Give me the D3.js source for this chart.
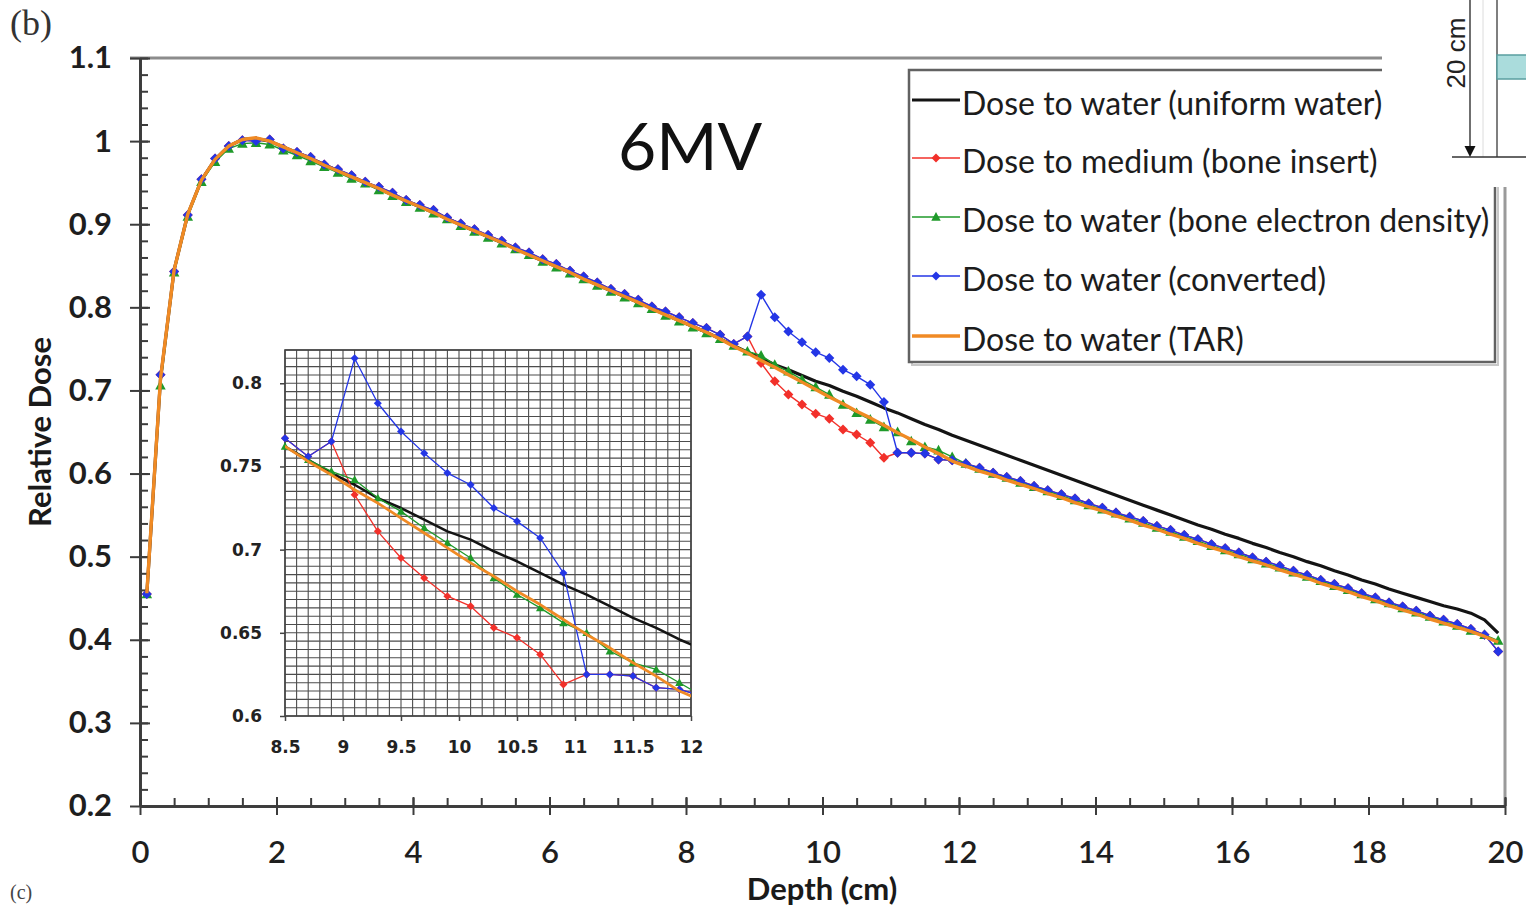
<!DOCTYPE html>
<html>
<head>
<meta charset="utf-8">
<script src="https://cdn.jsdelivr.net/npm/d3@7"></script>
<style>
  body { margin: 0; background: #fff; }
  svg { display: block; }
</style>
</head>
<body>
<svg id="chart" width="1526" height="906"></svg>
<script>
// Depth samples (cm)
const depth = [
  0.1,0.3,0.5,0.7,0.9,1.1,1.3,1.5,1.7,1.9,
  2.1,2.3,2.5,2.7,2.9,3.1,3.3,3.5,3.7,3.9,
  4.1,4.3,4.5,4.7,4.9,5.1,5.3,5.5,5.7,5.9,
  6.1,6.3,6.5,6.7,6.9,7.1,7.3,7.5,7.7,7.9,
  8.1,8.3,8.5,8.7,8.9,9.1,9.3,9.5,9.7,9.9,
  10.1,10.3,10.5,10.7,10.9,11.1,11.3,11.5,11.7,11.9,
  12.1,12.3,12.5,12.7,12.9,13.1,13.3,13.5,13.7,13.9,
  14.1,14.3,14.5,14.7,14.9,15.1,15.3,15.5,15.7,15.9,
  16.1,16.3,16.5,16.7,16.9,17.1,17.3,17.5,17.7,17.9,
  18.1,18.3,18.5,18.7,18.9,19.1,19.3,19.5,19.7,19.9
];

// Dose to water, uniform water phantom
const uniformWater = [
  0.455,0.713,0.845,0.912,0.953,0.978,0.994,1.002,1.003,1.000,
  0.993,0.986,0.979,0.972,0.964,0.957,0.950,0.943,0.936,0.928,
  0.921,0.914,0.907,0.899,0.892,0.885,0.878,0.871,0.863,0.856,
  0.849,0.842,0.835,0.827,0.820,0.813,0.806,0.799,0.791,0.784,
  0.777,0.770,0.762,0.754,0.746,0.739,0.731,0.725,0.718,0.711,
  0.706,0.699,0.693,0.686,0.679,0.673,0.666,0.659,0.653,0.646,
  0.640,0.634,0.628,0.622,0.616,0.610,0.604,0.598,0.592,0.586,
  0.580,0.574,0.568,0.562,0.556,0.550,0.544,0.538,0.533,0.527,
  0.522,0.516,0.511,0.505,0.500,0.494,0.489,0.483,0.478,0.472,
  0.467,0.461,0.456,0.451,0.446,0.441,0.437,0.432,0.424,0.408
];

// Dose to medium, bone insert
const boneInsert = [
  0.455,0.719,0.843,0.911,0.954,0.979,0.994,1.001,1.000,1.002,
  0.991,0.987,0.981,0.972,0.966,0.959,0.951,0.945,0.938,0.929,
  0.923,0.917,0.908,0.901,0.894,0.887,0.880,0.872,0.866,0.858,
  0.852,0.844,0.837,0.830,0.822,0.816,0.809,0.801,0.795,0.788,
  0.781,0.775,0.767,0.756,0.765,0.733,0.711,0.695,0.683,0.672,
  0.666,0.653,0.647,0.637,0.619,0.625,0.625,0.624,0.617,0.616,
  0.612,0.607,0.601,0.596,0.591,0.585,0.580,0.575,0.570,0.564,
  0.559,0.553,0.548,0.543,0.537,0.532,0.526,0.521,0.515,0.510,
  0.505,0.499,0.494,0.489,0.483,0.478,0.472,0.467,0.462,0.456,
  0.451,0.445,0.440,0.435,0.429,0.424,0.419,0.413,0.406,0.386
];

// Dose to water, bone electron density
const boneDensity = [
  0.455,0.706,0.842,0.909,0.951,0.975,0.991,0.997,0.998,0.996,
  0.989,0.983,0.976,0.969,0.962,0.955,0.949,0.941,0.934,0.927,
  0.920,0.913,0.906,0.898,0.891,0.884,0.877,0.870,0.863,0.855,
  0.848,0.841,0.834,0.826,0.819,0.812,0.805,0.798,0.790,0.783,
  0.776,0.769,0.762,0.754,0.747,0.742,0.731,0.723,0.713,0.704,
  0.695,0.683,0.673,0.665,0.656,0.650,0.639,0.632,0.628,0.620,
  0.612,0.606,0.600,0.595,0.589,0.584,0.579,0.573,0.568,0.562,
  0.557,0.552,0.546,0.541,0.535,0.530,0.524,0.519,0.513,0.508,
  0.503,0.497,0.492,0.487,0.481,0.476,0.471,0.465,0.460,0.455,
  0.449,0.444,0.438,0.433,0.428,0.422,0.417,0.411,0.406,0.399
];

// Dose to water, converted from dose to medium
const converted = [
  0.455,0.719,0.843,0.911,0.954,0.979,0.994,1.001,1.000,1.002,
  0.991,0.987,0.981,0.972,0.966,0.959,0.951,0.945,0.938,0.929,
  0.923,0.917,0.908,0.901,0.894,0.887,0.880,0.872,0.866,0.858,
  0.852,0.844,0.837,0.830,0.822,0.816,0.809,0.801,0.795,0.788,
  0.781,0.775,0.767,0.756,0.765,0.815,0.788,0.771,0.758,0.746,
  0.739,0.725,0.717,0.707,0.686,0.625,0.625,0.624,0.617,0.616,
  0.612,0.607,0.601,0.596,0.591,0.585,0.580,0.575,0.570,0.564,
  0.559,0.553,0.548,0.543,0.537,0.532,0.526,0.521,0.515,0.510,
  0.505,0.499,0.494,0.489,0.483,0.478,0.472,0.467,0.462,0.456,
  0.451,0.445,0.440,0.435,0.429,0.424,0.419,0.413,0.406,0.386
];

// Dose to water, TAR correction
const tar = [
  0.456,0.714,0.845,0.912,0.953,0.978,0.994,1.002,1.004,1.000,
  0.993,0.986,0.979,0.971,0.964,0.957,0.950,0.943,0.935,0.928,
  0.921,0.914,0.906,0.899,0.892,0.885,0.878,0.870,0.863,0.856,
  0.849,0.842,0.834,0.827,0.820,0.813,0.806,0.798,0.791,0.784,
  0.777,0.770,0.762,0.753,0.745,0.736,0.728,0.719,0.710,0.701,
  0.692,0.684,0.675,0.667,0.658,0.649,0.641,0.632,0.624,0.615,
  0.609,0.603,0.598,0.592,0.587,0.582,0.576,0.571,0.565,0.560,
  0.555,0.549,0.544,0.538,0.533,0.527,0.522,0.516,0.511,0.506,
  0.500,0.495,0.490,0.484,0.479,0.474,0.468,0.463,0.458,0.452,
  0.447,0.441,0.436,0.431,0.425,0.420,0.415,0.410,0.404,0.397
];

const xTicks = [0, 2, 4, 6, 8, 10, 12, 14, 16, 18, 20];
const yTicks = [0.2, 0.3, 0.4, 0.5, 0.6, 0.7, 0.8, 0.9, 1, 1.1];
const yTickLabels = ["0.2", "0.3", "0.4", "0.5", "0.6", "0.7", "0.8", "0.9", "1", "1.1"];
const insetXTicks = [8.5, 9, 9.5, 10, 10.5, 11, 11.5, 12];
const insetYTicks = [0.6, 0.65, 0.7, 0.75, 0.8];

const seriesNames = [
  "Dose to water (uniform water)",
  "Dose to medium (bone insert)",
  "Dose to water (bone electron density)",
  "Dose to water (converted)",
  "Dose to water (TAR)"
];

const series = [
  { name: seriesNames[0], values: uniformWater, color: "#141414", width: 3.2, marker: null },
  { name: seriesNames[1], values: boneInsert, color: "#f2302a", width: 1.4, marker: "diamond" },
  { name: seriesNames[2], values: boneDensity, color: "#1f9a2a", width: 1.4, marker: "triangle" },
  { name: seriesNames[3], values: converted, color: "#2436e6", width: 1.4, marker: "diamond" },
  { name: seriesNames[4], values: tar, color: "#f08a24", width: 3.4, marker: null }
];

const svg = d3.select("#chart");
svg.append("rect").attr("width", 1526).attr("height", 906).attr("fill", "#fff");

const x = d3.scaleLinear().domain([0, 20]).range([140, 1505]);
const y = d3.scaleLinear().domain([0.2, 1.1]).range([806, 58]);

function markerPath(type, r) {
  if (type === "diamond") {
    return `M0,${-r}L${r},0L0,${r}L${-r},0Z`;
  }
  const h = r * 1.1;
  return `M0,${-h}L${r * 1.05},${h * 0.75}L${-r * 1.05},${h * 0.75}Z`;
}

// ---- plot frame (top and right edges) ----
svg.append("line")
  .attr("x1", x(0) - 10).attr("x2", x(20))
  .attr("y1", y(1.1)).attr("y2", y(1.1))
  .attr("stroke", "#8c8c8c").attr("stroke-width", 3);
svg.append("line")
  .attr("x1", x(20)).attr("x2", x(20))
  .attr("y1", y(1.1)).attr("y2", y(0.2))
  .attr("stroke", "#9a9a9a").attr("stroke-width", 3);

// ---- y axis ----
const axisColor = "#3c3c3c";
function styleAxis(g) {
  g.select(".domain").attr("stroke", axisColor).attr("stroke-width", 2.5);
  g.selectAll(".tick line").attr("stroke", axisColor).attr("stroke-width", 2);
}
const gyMinor = svg.append("g").attr("transform", `translate(${x(0)},0)`)
  .call(d3.axisLeft(y).ticks(45).tickSize(-8).tickSizeOuter(0).tickFormat(""));
styleAxis(gyMinor);
const gyIn = svg.append("g").attr("transform", `translate(${x(0)},0)`)
  .call(d3.axisLeft(y).tickValues(yTicks).tickSize(-10).tickSizeOuter(0).tickFormat(""));
styleAxis(gyIn);
const gy = svg.append("g").attr("transform", `translate(${x(0)},0)`)
  .call(d3.axisLeft(y).tickValues(yTicks).tickSize(10).tickSizeOuter(0).tickPadding(18)
    .tickFormat((d, i) => yTickLabels[i]));
styleAxis(gy);
gy.selectAll(".tick text")
  .attr("font-family", "Lato, 'Open Sans', sans-serif")
  .attr("font-size", 31).attr("font-weight", "bold").attr("fill", "#1e1e1e");

// ---- x axis ----
const gxMinor = svg.append("g").attr("transform", `translate(0,${y(0.2)})`)
  .call(d3.axisBottom(x).ticks(50).tickSize(-8).tickSizeOuter(0).tickFormat(""));
styleAxis(gxMinor);
const gxIn = svg.append("g").attr("transform", `translate(0,${y(0.2)})`)
  .call(d3.axisBottom(x).tickValues(xTicks).tickSize(-9).tickSizeOuter(0).tickFormat(""));
styleAxis(gxIn);
const gx = svg.append("g").attr("transform", `translate(0,${y(0.2)})`)
  .call(d3.axisBottom(x).tickValues(xTicks).tickSize(9).tickSizeOuter(0).tickPadding(26)
    .tickFormat(d3.format("d")));
styleAxis(gx);
gx.selectAll(".tick text")
  .attr("font-family", "Lato, 'Open Sans', sans-serif")
  .attr("font-size", 31).attr("font-weight", 600).attr("fill", "#1e1e1e");

// ---- axis titles ----
svg.append("text")
  .attr("transform", "translate(51,432) rotate(-90)")
  .attr("text-anchor", "middle")
  .attr("font-family", "Lato, 'Open Sans', sans-serif")
  .attr("font-size", 31).attr("font-weight", "bold").attr("fill", "#1a1a1a")
  .text("Relative Dose");
svg.append("text")
  .attr("x", 822).attr("y", 900)
  .attr("text-anchor", "middle")
  .attr("font-family", "Lato, 'Open Sans', sans-serif")
  .attr("font-size", 31).attr("font-weight", "bold").attr("fill", "#1a1a1a")
  .text("Depth (cm)");

// ---- main curves ----
const mainLine = d3.line().x((d, i) => x(depth[i])).y(d => y(d));
const gMain = svg.append("g");
series.forEach(s => {
  gMain.append("path")
    .attr("d", mainLine(s.values))
    .attr("fill", "none")
    .attr("stroke", s.color)
    .attr("stroke-width", s.width)
    .attr("stroke-linejoin", "round");
  if (s.marker) {
    gMain.append("g").selectAll("path")
      .data(s.values)
      .join("path")
      .attr("transform", (d, i) => `translate(${x(depth[i])},${y(d)})`)
      .attr("d", markerPath(s.marker, 5))
      .attr("fill", s.color);
  }
});

// ---- 6MV label ----
svg.append("text")
  .attr("x", 690).attr("y", 170)
  .attr("text-anchor", "middle")
  .attr("font-family", "Lato, 'Open Sans', sans-serif")
  .attr("font-size", 66).attr("fill", "#111")
  .text("6MV");

// ---- inset (8.5 – 12 cm) ----
const xi = d3.scaleLinear().domain([8.5, 12]).range([285, 691]);
const yi = d3.scaleLinear().domain([0.6, 0.82]).range([716, 350]);
const gIn = svg.append("g");
gIn.append("rect")
  .attr("x", xi(8.5)).attr("y", yi(0.82))
  .attr("width", xi(12) - xi(8.5)).attr("height", yi(0.6) - yi(0.82))
  .attr("fill", "#fff");
svg.append("defs").append("clipPath").attr("id", "insetClip")
  .append("rect")
  .attr("x", xi(8.5)).attr("y", yi(0.82))
  .attr("width", xi(12) - xi(8.5)).attr("height", yi(0.6) - yi(0.82));

const gridColor = "#4d4d4d";
gIn.append("g").selectAll("line")
  .data(xi.ticks(35))
  .join("line")
  .attr("x1", d => xi(d)).attr("x2", d => xi(d))
  .attr("y1", yi(0.82)).attr("y2", yi(0.6))
  .attr("stroke", gridColor).attr("stroke-width", 1.1);
gIn.append("g").selectAll("line")
  .data(yi.ticks(44))
  .join("line")
  .attr("x1", xi(8.5)).attr("x2", xi(12))
  .attr("y1", d => yi(d)).attr("y2", d => yi(d))
  .attr("stroke", gridColor).attr("stroke-width", 1.1);
gIn.append("rect")
  .attr("x", xi(8.5)).attr("y", yi(0.82))
  .attr("width", xi(12) - xi(8.5)).attr("height", yi(0.6) - yi(0.82))
  .attr("fill", "none").attr("stroke", "#444").attr("stroke-width", 1.6);

const gyi = gIn.append("g").attr("transform", `translate(${xi(8.5)},0)`)
  .call(d3.axisLeft(yi).tickValues(insetYTicks).tickSize(5).tickSizeOuter(0).tickPadding(18)
    .tickFormat(d3.format("")));
gyi.select(".domain").remove();
gyi.selectAll(".tick line").attr("stroke", "#444").attr("stroke-width", 1.5);
gyi.selectAll(".tick text")
  .attr("font-family", "'DejaVu Sans', Verdana, sans-serif")
  .attr("font-size", 17).attr("font-weight", "bold").attr("fill", "#222");

const gxi = gIn.append("g").attr("transform", `translate(0,${yi(0.6)})`)
  .call(d3.axisBottom(xi).tickValues(insetXTicks).tickSize(5).tickSizeOuter(0).tickPadding(20)
    .tickFormat(d3.format("")));
gxi.select(".domain").remove();
gxi.selectAll(".tick line").attr("stroke", "#444").attr("stroke-width", 1.5);
gxi.selectAll(".tick text")
  .attr("font-family", "'DejaVu Sans', Verdana, sans-serif")
  .attr("font-size", 17).attr("font-weight", "bold").attr("fill", "#222");

const insetIdx = depth.map((d, i) => i).filter(i => depth[i] >= 8.3 && depth[i] <= 12.1);
const gInSeries = gIn.append("g");
series.forEach(s => {
  const line = d3.line().x(i => xi(depth[i])).y(i => yi(s.values[i]));
  gInSeries.append("path")
    .attr("clip-path", "url(#insetClip)")
    .attr("d", line(insetIdx))
    .attr("fill", "none")
    .attr("stroke", s.color)
    .attr("stroke-width", s.marker ? 1.3 : s.width * 0.8)
    .attr("stroke-linejoin", "round");
  if (s.marker) {
    gInSeries.append("g").selectAll("path")
      .data(insetIdx.filter(i => depth[i] >= 8.5 && depth[i] <= 12))
      .join("path")
      .attr("transform", i => `translate(${xi(depth[i])},${yi(s.values[i])})`)
      .attr("d", markerPath(s.marker, 4))
      .attr("fill", s.color);
  }
});

// ---- legend ----
const gLeg = svg.append("g");
gLeg.append("rect")
  .attr("x", 912).attr("y", 73).attr("width", 586).attr("height", 292)
  .attr("fill", "none").attr("stroke", "#c8c8c8").attr("stroke-width", 2);
gLeg.append("rect")
  .attr("x", 909).attr("y", 70).attr("width", 586).attr("height", 292)
  .attr("fill", "#fff").attr("stroke", "#626262").attr("stroke-width", 2.5);
const legendRows = [104, 162, 221, 280, 340];
series.forEach((s, k) => {
  const cy = legendRows[k];
  gLeg.append("line")
    .attr("x1", 912).attr("x2", 960)
    .attr("y1", cy - 4).attr("y2", cy - 4)
    .attr("stroke", s.color)
    .attr("stroke-width", s.marker ? 1.6 : s.width);
  if (s.marker) {
    gLeg.append("path")
      .attr("transform", `translate(936,${cy - 4})`)
      .attr("d", markerPath(s.marker, 4.5))
      .attr("fill", s.color);
  }
  gLeg.append("text")
    .attr("x", 962).attr("y", cy + 11)
    .attr("font-family", "Lato, 'Open Sans', sans-serif")
    .attr("font-size", 32).attr("fill", "#1c1c1c")
    .text(s.name);
});

// ---- phantom sketch in the top-right corner ----
const gSk = svg.append("g");
gSk.append("rect").attr("x", 1382).attr("y", 0).attr("width", 144).attr("height", 187).attr("fill", "#fff");
gSk.append("line").attr("x1", 1483).attr("x2", 1483).attr("y1", 0).attr("y2", 157)
  .attr("stroke", "#dcdcdc").attr("stroke-width", 1);
gSk.append("line").attr("x1", 1497).attr("x2", 1497).attr("y1", 0).attr("y2", 157)
  .attr("stroke", "#555").attr("stroke-width", 1.5);
gSk.append("rect").attr("x", 1497).attr("y", 55).attr("width", 30).attr("height", 24)
  .attr("fill", "#aadcdc").attr("stroke", "#5a9fa0").attr("stroke-width", 1.5);
gSk.append("line").attr("x1", 1452).attr("x2", 1526).attr("y1", 157).attr("y2", 157)
  .attr("stroke", "#333").attr("stroke-width", 1.5);
gSk.append("line").attr("x1", 1470).attr("x2", 1470).attr("y1", 0).attr("y2", 150)
  .attr("stroke", "#222").attr("stroke-width", 1.3);
gSk.append("path").attr("d", "M1464.5,146L1475.5,146L1470,157Z").attr("fill", "#111");
gSk.append("text")
  .attr("transform", "translate(1465,53) rotate(-90)")
  .attr("text-anchor", "middle")
  .attr("font-family", "'Liberation Sans', Arial, sans-serif")
  .attr("font-size", 26).attr("fill", "#222")
  .text("20 cm");

// ---- panel letters ----
svg.append("text")
  .attr("x", 10).attr("y", 35)
  .attr("font-family", "'Liberation Serif', 'Times New Roman', serif")
  .attr("font-size", 36).attr("fill", "#333")
  .text("(b)");
svg.append("text")
  .attr("x", 10).attr("y", 899)
  .attr("font-family", "'Liberation Serif', 'Times New Roman', serif")
  .attr("font-size", 20).attr("fill", "#444")
  .text("(c)");
</script>
</body>
</html>
